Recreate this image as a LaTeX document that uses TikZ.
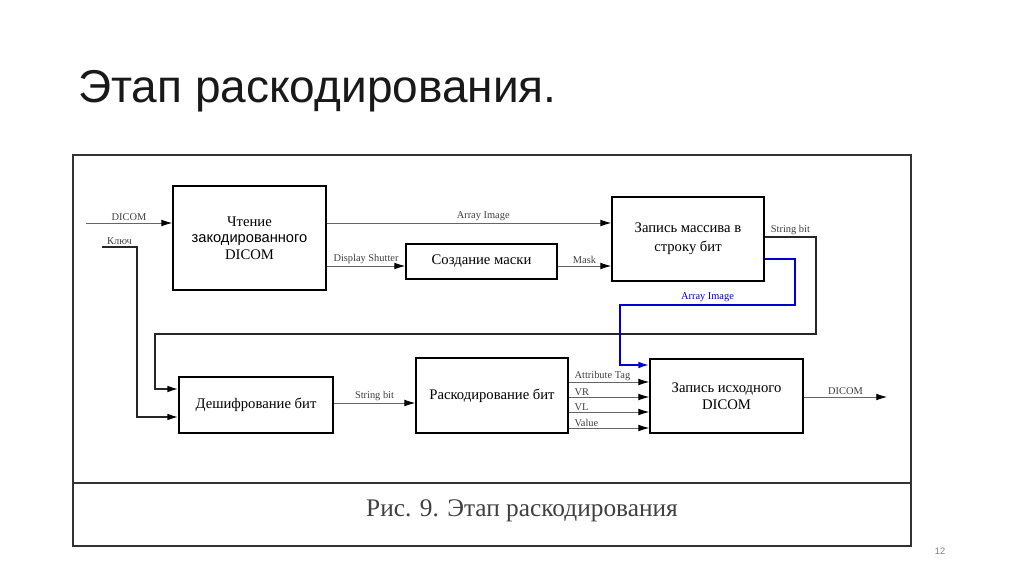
\documentclass[tikz,border=0pt]{standalone}
\usepackage{fontspec}
\setmainfont{Liberation Serif}
\newfontfamily\arialfont{Liberation Sans}
\usetikzlibrary{arrows.meta,positioning}

\tikzset{
   blok/.style={draw, line width=1.3pt, align=center, inner sep=0pt,
      font=\fontsize{11}{12.5}\selectfont},
   potok/.style={draw=black!60, line width=0.6pt, -{Latex[length=8pt,width=5pt,color=black]}},
   petlya/.style={draw=black!85, line width=1.1pt, -{Latex[length=8pt,width=5pt,color=black]}},
   sinij/.style={draw=blue!80!black, line width=1.3pt, -{Latex[length=8pt,width=5pt]}},
   metka/.style={font=\fontsize{7.8}{8.5}\selectfont, text=black!75, inner sep=1.5pt}
}

\begin{document}
\begin{tikzpicture}[x=0.75pt, y=-0.75pt]
   \useasboundingbox[fill=white] (0,0) rectangle (1024,574);

   % title and frame
   \node[anchor=base west, inner sep=0pt, font=\arialfont\fontsize{34.5}{38}\selectfont, text=black!90] (title) at (78,103) {Этап раскодирования.};
   \draw[line width=0.9pt, black!80] (73,155) rectangle (911,546);
   \draw[line width=0.9pt, black!80] (73,483) -- (911,483);
   \node[font=\fontsize{19}{22}\selectfont, text=black!75] (caption) at (522,511) {Рис. 9. Этап раскодирования};
   \node[font=\arialfont\fontsize{7}{8}\selectfont, text=black!50] (page) at (940,551) {12};

   % blocks
   \node[blok, minimum width=153*0.75pt, minimum height=104*0.75pt] (read) at (249.5,238)
      {Чтение\\{\arialfont закодированного}\\DICOM};
   \node[blok, minimum width=151*0.75pt, minimum height=35*0.75pt] (mask) at (481.5,261.5) {Создание маски};
   \node[blok, minimum width=152*0.75pt, minimum height=84*0.75pt, font=\fontsize{11}{14}\selectfont] (pack) at (688,239)
      {Запись массива в\\строку бит};
   \node[blok, minimum width=154*0.75pt, minimum height=56*0.75pt] (decrypt) at (256,405) {Дешифрование бит};
   \node[blok, minimum width=152*0.75pt, minimum height=75*0.75pt] (decode) at (492,395.5) {Раскодирование бит};
   \node[blok, minimum width=153*0.75pt, minimum height=74*0.75pt] (write) at (726.5,396)
      {Запись исходного\\DICOM};

   % free ends
   \coordinate (dicomIn) at (86,223);
   \coordinate (klyuch) at (102,247);
   \coordinate (dicomOut) at (887,397);

   % data flows
   \draw[potok] (dicomIn) -- (dicomIn -| read.west) node[metka, midway, above] {DICOM};
   \draw[potok] (read.east |- 0,223) -- (pack.west |- 0,223) node[metka, pos=0.55, above] {Array Image};
   \draw[potok] (read.east |- 0,266) -- (mask.west |- 0,266) node[metka, midway, above] {Display Shutter};
   \draw[potok] (mask.east |- 0,266) -- (pack.west |- 0,266) node[metka, midway, above] {Mask};
   \draw[petlya] (pack.east |- 0,237) -- (816,237) node[metka, midway, above] {String bit}
      -- (816,334) -- (155,334) -- (155,389) -- (decrypt.west |- 0,389);
   \draw[petlya] (klyuch) -- (137,247) node[metka, midway, above] {Ключ}
      -- (137,417) -- (decrypt.west |- 0,417);
   \draw[sinij] (pack.east |- 0,259) -- (795,259) -- (795,305)
      -- (620,305) node[metka, midway, above, text=blue!80!black] {Array Image}
      -- (620,365) -- (write.west |- 0,365);
   \draw[potok] (decrypt.east |- 0,403) -- (decode.west |- 0,403) node[metka, midway, above] {String bit};
   \foreach \y / \t in {382/Attribute Tag, 397/VR, 412/VL, 428/Value} {
      \draw[potok] (decode.east |- 0,\y) -- (write.west |- 0,\y) node[metka, pos=0, above right, xshift=3pt, inner sep=1pt] {\t};
   }
   \draw[potok] (write.east |- 0,397) -- (dicomOut) node[metka, midway, above] {DICOM};
\end{tikzpicture}
\end{document}
